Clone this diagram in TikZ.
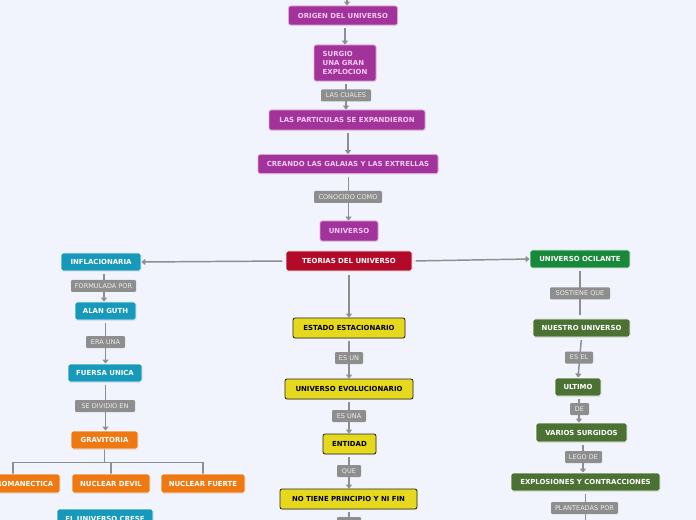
\documentclass[tikz,border=0pt]{standalone}
\usepackage{fontspec}
\setmainfont{DejaVu Sans}
\usetikzlibrary{arrows.meta,backgrounds,shadows}
\definecolor{bgc}{HTML}{F1F4FC}
\definecolor{purp}{HTML}{A2339B}
\definecolor{purptext}{HTML}{F5C9F0}
\definecolor{purpline}{HTML}{E3A3DC}
\definecolor{redc}{HTML}{B40A2A}
\definecolor{tealc}{HTML}{1699BA}
\definecolor{orangec}{HTML}{EE7912}
\definecolor{yellowc}{HTML}{E6D81C}
\definecolor{greenA}{HTML}{17893A}
\definecolor{greenB}{HTML}{4B7233}
\definecolor{lblc}{HTML}{8E8E8E}
\definecolor{connc}{HTML}{8E8E8E}
\tikzset{
  bw/.style={minimum width=#1*0.75pt},
  bh/.style={minimum height=#1*0.75pt},
  basebox/.style={rectangle, rounded corners=1.6pt, inner sep=0pt, line width=0.6pt,
    font=\fontsize{5.2}{6.4}\selectfont\bfseries,
    drop shadow={shadow xshift=0.3pt, shadow yshift=-0.6pt, opacity=0.22}},
  pbox/.style={basebox, fill=purp, draw=purpline, text=purptext},
  rbox/.style={basebox, fill=redc, draw=white, text=white},
  tbox/.style={basebox, fill=tealc, draw=white, text=white},
  obox/.style={basebox, fill=orangec, draw=white, text=white},
  ybox/.style={basebox, fill=yellowc, draw=black!85, text=black},
  gAbox/.style={basebox, fill=greenA, draw=white, text=white},
  gBbox/.style={basebox, fill=greenB, draw=white, text=white},
  lbl/.style={rectangle, rounded corners=0.8pt, inner sep=0pt, fill=lblc, text=white!93!black,
    font=\fontsize{4.9}{6}\selectfont, bh=12},
  conn/.style={draw=connc, line width=1.1pt},
  arr/.style={conn, -{Triangle[width=4.6pt,length=3pt]}},
}
\begin{document}
\begin{tikzpicture}[x=0.75pt,y=-0.75pt]
\useasboundingbox (0,0) rectangle (696,520);
% top column (purple)
\coordinate (topin) at (347,-12);
\node[pbox, bw=109, bh=19] (origen) at (343,15.5) {ORIGEN DEL UNIVERSO};
\node[pbox, bw=62, bh=36, align=left] (surgio) at (345,63) {SURGIO\\UNA GRAN\\EXPLOCION};
\node[lbl, bw=50] (lcuales) at (346,95.5) {LAS CUALES};
\node[pbox, bw=156, bh=20] (particulas) at (347,120) {LAS PARTICULAS SE EXPANDIERON};
\node[pbox, bw=180, bh=19] (creando) at (348,164) {CREANDO LAS GALAIAS Y LAS EXTRELLAS};
\node[lbl, bw=68] (lconocido) at (348,197) {CONOCIDO COMO};
\node[pbox, bw=58, bh=20] (universo) at (349,231) {UNIVERSO};
% center
\node[rbox, bw=126, bh=20] (teorias) at (349,261) {TEORIAS DEL UNIVERSO};
% left column (teal / orange)
\node[tbox, bw=80, bh=18] (infla) at (101,262) {INFLACIONARIA};
\node[lbl, bw=65] (lformulada) at (103.5,286) {FORMULADA POR};
\node[tbox, bw=61, bh=18] (alan) at (105.5,311) {ALAN GUTH};
\node[lbl, bw=39] (lera) at (105.5,342) {ERA UNA};
\node[tbox, bw=74, bh=18] (fuersa) at (105,373) {FUERSA UNICA};
\node[lbl, bw=60] (ldividio) at (105,406) {SE DIVIDIO EN};
\node[obox, bw=67, bh=18] (grav) at (104.5,440) {GRAVITORIA};
\node[obox, bw=94, bh=19] (electro) at (13,483.5) {ELECTROMANECTICA};
\node[obox, bw=78, bh=19] (devil) at (111,483.5) {NUCLEAR DEVIL};
\node[obox, bw=84, bh=19] (fuerte) at (203,483.5) {NUCLEAR FUERTE};
\node[tbox, bw=96, bh=20] (crese) at (105,519) {EL UNIVERSO CRESE};
\coordinate (tj) at (104.5,463);
% middle column (yellow)
\node[ybox, bw=112, bh=20] (estado) at (349,328) {ESTADO ESTACIONARIO};
\node[lbl, bw=28] (lesun) at (349,358) {ES UN};
\node[ybox, bw=128, bh=20] (evol) at (349,389) {UNIVERSO EVOLUCIONARIO};
\node[lbl, bw=34] (lesuna) at (349,416) {ES UNA};
\node[ybox, bw=53, bh=20] (entidad) at (349.5,444) {ENTIDAD};
\node[lbl, bw=24] (lque) at (349,471) {QUE};
\node[ybox, bw=137, bh=20] (notiene) at (348.5,499) {NO TIENE PRINCIPIO Y NI FIN};
\node[lbl, bw=24] (lbottom) at (349,523) {};
% right column (green)
\node[gAbox, bw=100, bh=18] (ocil) at (580,259) {UNIVERSO OCILANTE};
\node[lbl, bw=60] (lsostiene) at (580,293.5) {SOSTIENE QUE};
\node[gBbox, bw=97, bh=18] (nuestro) at (581.5,328) {NUESTRO UNIVERSO};
\node[lbl, bw=28] (lesel) at (579,357.5) {ES EL};
\node[gBbox, bw=46, bh=18] (ultimo) at (578,387) {ULTIMO};
\node[lbl, bw=19] (lde) at (579.5,409) {DE};
\node[gBbox, bw=91, bh=19] (varios) at (581.5,432.5) {VARIOS SURGIDOS};
\node[lbl, bw=37] (llego) at (583.5,457) {LEGO DE};
\node[gBbox, bw=149, bh=18] (explos) at (585.5,482) {EXPLOSIONES Y CONTRACCIONES};
\node[lbl, bw=67] (lplant) at (584.5,508) {PLANTEADAS POR};
\coordinate (pend) at (585.5,530);
\begin{pgfonlayer}{background}
\fill[bgc] (-50,-50) rectangle (750,570);
\draw[arr] (topin) -- (origen.north -| topin);
\draw[arr, shorten <=2pt] (origen.south -| 345,0) -- (surgio.north);
\draw[arr, shorten <=2pt] (surgio.south -| 346,0) -- (particulas.north -| 346,0);
\draw[arr, shorten <=2pt] (particulas.south -| 348,0) -- (creando.north -| 348,0);
\draw[arr, shorten <=2pt] (creando.south -| 348.5,0) -- (universo.north -| 348.5,0);
\draw[arr, shorten <=2.5pt] (teorias.west) -- (infla.east);
\draw[arr, shorten <=2.5pt] (teorias.east) -- (ocil.west);
\draw[arr, shorten <=2.5pt] (teorias.south) -- (estado.north);
\draw[arr, shorten <=2pt] (infla.south -| 104,0) -- (alan.north -| 104,0);
\draw[arr, shorten <=2pt] (alan.south -| 105.5,0) -- (fuersa.north -| 105.5,0);
\draw[arr, shorten <=2pt] (fuersa.south -| 105.5,0) -- (grav.north -| 105.5,0);
\draw[conn] (grav.south) -- (tj);
\draw[conn] (electro.north) -- ++(0,-11) -| (fuerte.north);
\draw[conn] (devil.north) -- ++(0,-11);
\draw[arr, shorten <=2pt] (estado.south) -- (evol.north);
\draw[arr, shorten <=2pt] (evol.south) -- (entidad.north -| evol.south);
\draw[arr, shorten <=2pt] (entidad.south -| 349,0) -- (notiene.north -| 349,0);
\draw[conn, shorten <=2pt] (notiene.south -| 349,0) -- (lbottom);
\draw[conn, shorten <=2pt, shorten >=2.5pt] (ocil.south) -- (nuestro.north -| ocil.south);
\draw[arr, shorten <=2pt] (nuestro.south) -- (ultimo.north);
\draw[arr, shorten <=2pt] (ultimo.south -| 579,0) -- (varios.north -| 579,0);
\draw[arr, shorten <=2pt] (varios.south -| 583,0) -- (explos.north -| 583,0);
\draw[conn, shorten <=2pt] (explos.south) -- (pend);
\end{pgfonlayer}
\end{tikzpicture}
\end{document}
